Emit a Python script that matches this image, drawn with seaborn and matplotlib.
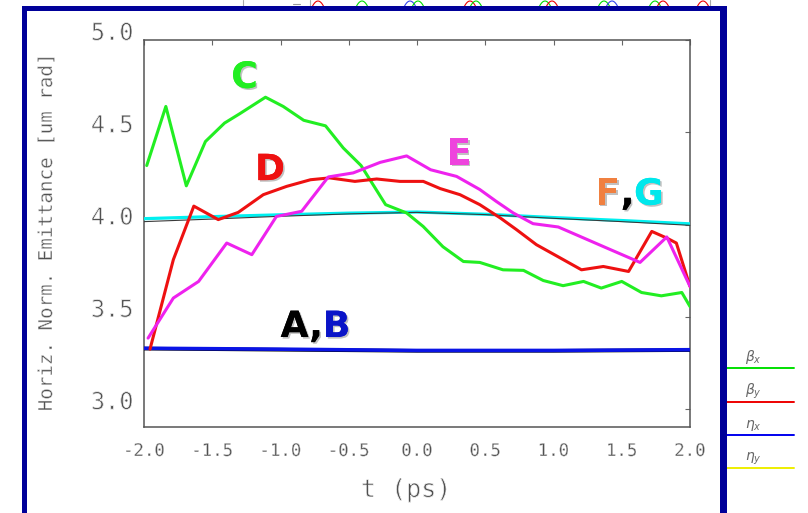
import numpy as np
import pandas as pd
import seaborn as sns
import matplotlib
matplotlib.use("Agg")
import matplotlib.pyplot as plt
from matplotlib import patheffects as pe
from matplotlib.lines import Line2D
from matplotlib.patches import Rectangle

# ---- emittance traces vs. time (ps) ----
t_C = [-1.98, -1.84, -1.69, -1.55, -1.41, -1.30, -1.11, -0.98, -0.83, -0.67,
       -0.54, -0.41, -0.23, -0.076, 0.045, 0.19, 0.34, 0.46, 0.63, 0.78,
       0.925, 1.07, 1.22, 1.35, 1.50, 1.645, 1.79, 1.94, 2.0]
C = [4.32, 4.64, 4.21, 4.45, 4.55, 4.60, 4.69, 4.64, 4.565, 4.535,
     4.415, 4.32, 4.108, 4.063, 3.99, 3.88, 3.80, 3.795, 3.755, 3.752,
     3.697, 3.669, 3.692, 3.656, 3.692, 3.632, 3.614, 3.632, 3.556]

t_D = [-1.956, -1.785, -1.635, -1.456, -1.31, -1.126, -0.955, -0.78, -0.64,
       -0.455, -0.295, -0.125, 0.046, 0.17, 0.315, 0.46, 0.61, 0.73, 0.875,
       1.05, 1.205, 1.365, 1.55, 1.72, 1.83, 1.90, 2.0]
D = [3.325, 3.81, 4.10, 4.027, 4.066, 4.162, 4.207, 4.243, 4.253,
     4.234, 4.247, 4.234, 4.234, 4.195, 4.162, 4.108, 4.036, 3.972, 3.891,
     3.819, 3.755, 3.773, 3.746, 3.963, 3.927, 3.90, 3.665]

t_E = [-1.97, -1.785, -1.60, -1.394, -1.21, -1.03, -0.845, -0.65, -0.467,
       -0.27, -0.076, 0.10, 0.29, 0.46, 0.58, 0.705, 0.85, 1.035, 1.194,
       1.39, 1.634, 1.83, 2.0]
E = [3.385, 3.602, 3.692, 3.90, 3.837, 4.044, 4.072, 4.258, 4.28,
     4.337, 4.372, 4.297, 4.261, 4.19, 4.126, 4.063, 4.005, 3.987, 3.936,
     3.873, 3.795, 3.933, 3.665]

t_FG = [-2.0, -1.5, -1.0, -0.5, 0.0, 0.5, 1.0, 1.5, 2.0]
F = [4.016, 4.030, 4.045, 4.058, 4.066, 4.054, 4.034, 4.016, 3.996]
G = [4.032, 4.043, 4.053, 4.062, 4.068, 4.056, 4.038, 4.022, 4.004]

t_AB = [-2.0, -1.0, 0.0, 1.0, 2.0]
A = [3.328, 3.322, 3.316, 3.316, 3.320]
B = [3.330, 3.325, 3.318, 3.318, 3.322]

x_ticks = [-2.0, -1.5, -1.0, -0.5, 0.0, 0.5, 1.0, 1.5, 2.0]
y_ticks = [3.0, 3.5, 4.0, 4.5, 5.0]

legend_names = [r"$\beta_x$", r"$\beta_y$", r"$\eta_x$", r"$\eta_y$"]
legend_colors = ["#00e000", "#ee0000", "#0000ee", "#eeee00"]

# bits of the window behind, peeking over the top edge (pixel x, colour)
peek_x = [318, 362, 410, 418, 470, 476, 545, 552, 604, 612, 655, 663, 703]
peek_c = ["#ee0000", "#00dd00", "#3344ee", "#00dd00", "#ee0000", "#00dd00",
          "#00dd00", "#ee0000", "#00dd00", "#3344ee", "#00dd00", "#ee0000",
          "#ee0000"]

sns.set_style("white")
axis_font = "DejaVu Sans Mono"
text_grey = "#505050"
thin = [pe.Normal(), pe.Stroke(linewidth=0.55, foreground="white")]

fig = plt.figure(figsize=(8.08, 5.13), dpi=100)
W, H = 808, 513
ax = fig.add_axes([144 / W, 1 - 426.7 / H, (690 - 144) / W, (426.7 - 40) / H])


def trace(t, v, color, lw, z):
    frame = pd.DataFrame({"t": t, "emit": v})
    sns.lineplot(data=frame, x="t", y="emit", ax=ax, color=color, lw=lw,
                 sort=False, estimator=None, zorder=z, legend=False)


trace(t_AB, A, "black", 2.6, 3)
trace(t_AB, B, "#0a14e6", 2.6, 4)
trace(t_FG, G, "#00f0f0", 2.3, 3)
trace(t_FG, F, "#3a3a3a", 0.8, 4)
trace(t_C, C, "#22ee22", 2.2, 5)
trace(t_D, D, "#ee1111", 2.2, 6)
trace(t_E, E, "#ee22ee", 2.2, 7)

ax.set_xlim(-2.0, 2.0)
ax.set_ylim(2.905, 5.0)
ax.set_xticks(x_ticks)
ax.set_yticks(y_ticks)
ax.set_xticklabels([f"{v:.1f}" for v in x_ticks], family=axis_font,
                   fontsize=12.5, color=text_grey)
ax.set_yticklabels([f"{v:.1f}" for v in y_ticks], family=axis_font,
                   fontsize=17, color=text_grey)
for lab in ax.get_yticklabels():
    lab.set_va("baseline")
    lab.set_path_effects(thin)
for lab in ax.get_xticklabels():
    lab.set_path_effects([pe.Normal(),
                          pe.Stroke(linewidth=0.35, foreground="white")])
ax.tick_params(axis="both", direction="in", length=3.5, width=0.8,
               colors="#666666", top=True, right=True)
ax.tick_params(axis="x", pad=11, labelcolor=text_grey)
ax.tick_params(axis="y", pad=7.5, labelcolor=text_grey)
for sp in ax.spines.values():
    sp.set_color("#555555")
    sp.set_linewidth(1.1)

ax.set_xlabel("t (ps)", family=axis_font, fontsize=18, color=text_grey,
              path_effects=thin)
ax.xaxis.set_label_coords((406 - 144) / 546, -(490 - 426.7) / 386.7)
ax.xaxis.label.set_va("center")
ax.set_ylabel("")
fig.text(46.5 / W, 1 - 233 / H, "Horiz. Norm. Emittance [um rad]",
         rotation=90, ha="center", va="center", family=axis_font,
         fontsize=13.8, color=text_grey,
         path_effects=[pe.Normal(), pe.Stroke(linewidth=0.4, foreground="white")])

# ---- curve tags ----
shadow = [pe.withSimplePatchShadow(offset=(1.2, -1.2), shadow_rgbFace="#777777",
                                   alpha=0.45), pe.Normal()]
tag_kw = dict(fontsize=26, fontweight="bold", family="DejaVu Sans",
              va="baseline", path_effects=shadow, zorder=10)
ax.text(-1.264, 4.741, "C", color="#22ee22", ha="center", **tag_kw)
ax.text(-1.077, 4.241, "D", color="#ee1111", ha="center", **tag_kw)
ax.text(0.308, 4.325, "E", color="#ee44dd", ha="center", **tag_kw)
ax.text(-0.69, 3.391, "A,", color="black", ha="right", **tag_kw)
ax.text(-0.69, 3.391, "B", color="#0a14c8", ha="left", **tag_kw)
ax.text(1.488, 4.108, "F", color="#f08040", ha="right", **tag_kw)
ax.text(1.492, 4.108, ",", color="black", ha="left", **tag_kw)
ax.text(1.59, 4.108, "G", color="#00e8ec", ha="left", **tag_kw)

# ---- window frame ----
navy = "#000099"
fig.add_artist(Rectangle((22 / W, 0), 5 / W, 1 - 6 / H, transform=fig.transFigure,
                         facecolor=navy, edgecolor="none", zorder=5))
fig.add_artist(Rectangle((22 / W, 1 - 11 / H), (727 - 22) / W, 5 / H,
                         transform=fig.transFigure, facecolor=navy,
                         edgecolor="none", zorder=5))
fig.add_artist(Rectangle((719.5 / W, 0), 7.5 / W, 1 - 6 / H,
                         transform=fig.transFigure, facecolor=navy,
                         edgecolor="none", zorder=5))

# ---- window behind: top strip ----
for gx in [243, 310, 710]:
    fig.add_artist(Line2D([gx / W, gx / W], [1, 1 - 7 / H],
                          transform=fig.transFigure, color="#aaaaaa", lw=0.8))
fig.add_artist(Line2D([293 / W, 300 / W], [1 - 4 / H, 1 - 4 / H],
                      transform=fig.transFigure, color="#999999", lw=0.8))
dx = np.linspace(-6, 6, 13)
for px, pc in zip(peek_x, peek_c):
    fig.add_artist(Line2D((px + dx) / W, 1 - (1 + 0.17 * dx ** 2) / H,
                          transform=fig.transFigure, color=pc, lw=0.8,
                          zorder=1))

# ---- side key ----
key_rows = [368, 402, 435, 468]
for name, col, yy in zip(legend_names, legend_colors, key_rows):
    fig.add_artist(Line2D([727 / W, 794 / W], [1 - yy / H, 1 - yy / H],
                          transform=fig.transFigure, color=col, lw=1.4))
    fig.text(745 / W, 1 - (yy - 7) / H, name, color="#666666", fontsize=10,
             ha="left", va="baseline")

fig.savefig("out.png", dpi=100)
